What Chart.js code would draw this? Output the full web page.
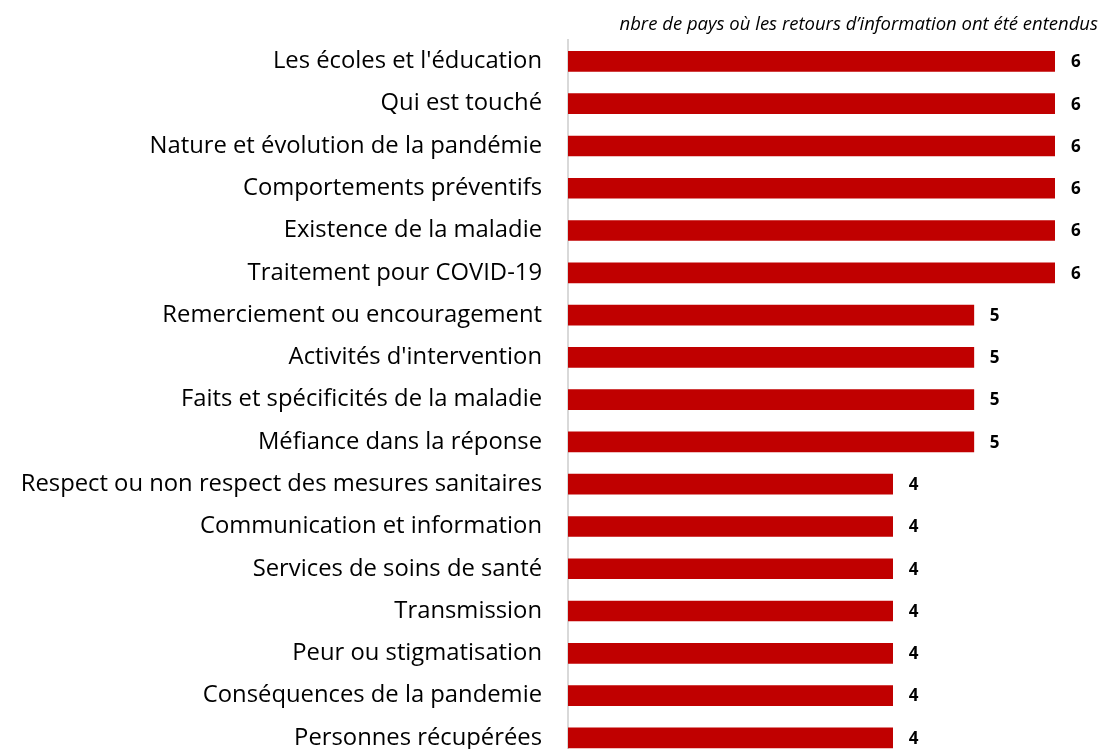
<!DOCTYPE html>
<html>
<head>
<meta charset="utf-8">
<script src="https://cdn.jsdelivr.net/npm/chart.js@4.4.1/dist/chart.umd.min.js"></script>
<style>
html,body{margin:0;padding:0;background:#fff;overflow:hidden}
</style>
</head>
<body>
<canvas id="chart" width="1102" height="800"></canvas>
<script>

// themes and number of countries
const categories = [
  "Les écoles et l'éducation",
  "Qui est touché",
  "Nature et évolution de la pandémie",
  "Comportements préventifs",
  "Existence de la maladie",
  "Traitement pour COVID-19",
  "Remerciement ou encouragement",
  "Activités d'intervention",
  "Faits et spécificités de la maladie",
  "Méfiance dans la réponse",
  "Respect ou non respect des mesures sanitaires",
  "Communication et information",
  "Services de soins de santé",
  "Transmission",
  "Peur ou stigmatisation",
  "Conséquences de la pandemie",
  "Personnes récupérées"
]

const nbPays = [6,6,6,6,6,6,5,5,5,5,4,4,4,4,4,4,4]

const subtitle = "nbre de pays où les retours d’information ont été entendus"

const FONT = "'Open Sans', sans-serif"


// draws value labels + subtitle
const extras = {
  id: "extras",
  afterDatasetsDraw(chart){
    let ctx = chart.ctx
    ctx.save()
    ctx.fillStyle = "#000"
    ctx.font = "bold 17px " + FONT
    ctx.textBaseline = "middle"
    ctx.textAlign = "left"
    chart.getDatasetMeta(0).data.forEach((bar,i)=>{
      ctx.fillText(nbPays[i], bar.x + 16, bar.y + 1)
    })
    ctx.font = "italic 18.5px " + FONT
    ctx.textAlign = "right"
    ctx.fillText(subtitle, 1098, 25)
    ctx.restore()
  }
}


new Chart(document.getElementById("chart"),{

type:'bar',

data:{
  labels:categories,
  datasets:[{
    label:"nbre de pays",
    data:nbPays,
    backgroundColor:"#c00000",
    barThickness:20
  }]
},

options:{
  responsive:false,
  indexAxis:'y',
  animation:false,
  layout:{padding:{top:39,bottom:41,right:47,left:0}},
  plugins:{
    legend:{display:false},
    tooltip:{enabled:false}
  },
  scales:{
    x:{
      display:false,
      min:0,
      max:6
    },
    y:{
      afterFit:function(s){ s.width = 568 },
      grid:{display:false, drawTicks:false},
      border:{display:true, color:"#d9d9d9", width:2},
      ticks:{
        color:"#000",
        padding:26,
        font:{family:FONT, size:23.8}
      }
    }
  }
},

plugins:[extras]

})

</script>
</body>
</html>
